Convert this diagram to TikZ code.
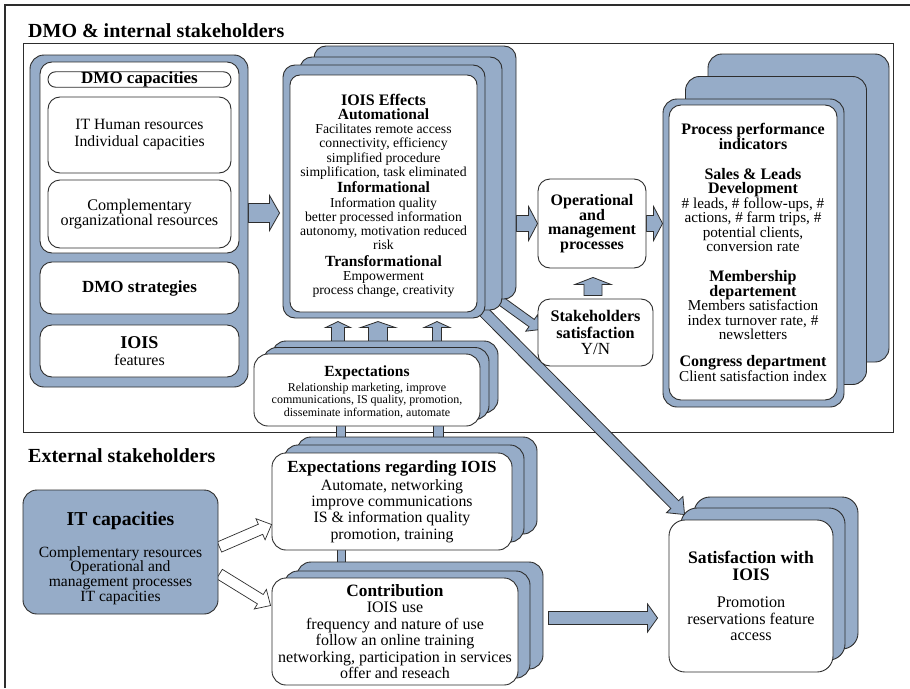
\documentclass[tikz,border=0pt]{standalone}
\usepackage{fontspec}
\setmainfont{Liberation Serif}
\usetikzlibrary{calc}
\definecolor{bl}{RGB}{150,172,200}
\definecolor{lc}{RGB}{45,45,45}
\pgfdeclarelayer{base}
\pgfdeclarelayer{bg}
\pgfsetlayers{base,bg,main}
\newcommand\fs[2]{\fontsize{#1}{#2}\selectfont\lineskiplimit=-30pt\relax}
\newcommand\bx[2]{{\bfseries\fontsize{#1}{#1}\selectfont #2}}
\newcommand\barr[6][barrow]{%
  \path[#1] let \p1=(#2), \p2=(#3), \p3=($(\p2)!#6pt!(\p1)$) in
   ($(\p1)!#4pt!90:(\p2)$) -- ($(\p3)!#4pt!-90:(\p1)$) -- ($(\p3)!#5pt!-90:(\p1)$) -- (\p2)
   -- ($(\p3)!#5pt!90:(\p1)$) -- ($(\p3)!#4pt!90:(\p1)$) -- ($(\p1)!#4pt!-90:(\p2)$) -- cycle;}
\begin{document}
\begin{tikzpicture}[x=1pt,y=-1pt,
  sz/.style 2 args={minimum width=#1pt, minimum height=#2pt},
  blu/.style={draw=lc, fill=bl, line width=0.9pt, rounded corners=12pt, inner sep=0pt},
  wht/.style={draw=lc, fill=white, line width=0.9pt, rounded corners=12pt, inner sep=0pt, align=center, text=black},
  barrow/.style={draw=lc, fill=bl, line width=0.8pt, line join=miter},
  warrow/.style={draw=lc, fill=white, line width=0.7pt, line join=miter},
  ttl/.style={anchor=base west, inner sep=0pt, font=\bfseries\fs{20}{21}}]
\useasboundingbox (0,0) rectangle (910,688);
\begin{pgfonlayer}{base}
\fill[white] (0,0) rectangle (910,688);
\draw[lc, line width=1.3pt] (5,688) -- (5,5) -- (910,5);
\draw[lc, line width=0.9pt] (23,43) rectangle (893,432);
\end{pgfonlayer}
\node[ttl] (t1) at (28,37) {DMO \& internal stakeholders};
\node[ttl] (t2) at (28,462) {External stakeholders};

% left group
\node[blu, rounded corners=14pt, sz={218}{332}] (grp) at (139,221) {};
\node[wht, sz={199}{191}] (cap) at (139.5,157.5) {};
\node[wht, rounded corners=7.5pt, sz={183}{15}, font=\bfseries\fs{17}{17}] (capt) at (139.5,79.5) {DMO capacities};
\node[wht, sz={183}{76}, font=\fs{15.7}{17}] (hr) at (139.5,135) {IT Human resources\\Individual capacities};
\node[wht, sz={183}{68}, font=\fs{16.2}{15.5}] (comp) at (139.5,214) {Complementary\\organizational resources};
\node[wht, sz={199}{52}, font=\bfseries\fs{17}{17}] (strat) at (139.5,288) {DMO strategies};
\node[wht, sz={199}{52}, font=\fs{16}{17}] (feat) at (139.5,351) {\bx{18}{IOIS}\\features};

% IOIS effects
\node[blu, sz={202}{253}] (eff3) at (415,172.5) {};
\node[blu, sz={202}{253}] (eff2) at (401,183.5) {};
\node[blu, sz={202}{253}] (eff) at (384,191.5) {};
\node[wht, rounded corners=10pt, sz={187}{237}, font=\fs{13.7}{14.2}] (efft) at (383.5,193.5) {%
\bx{16}{\rule{0pt}{16pt}IOIS Effects}\\
\bx{15.5}{Automational}\\
Facilitates remote access\\
connectivity, efficiency\\
simplified procedure\\
simplification, task eliminated\\[2.5pt]
\bx{15.5}{Informational}\\
Information quality\\
better processed information\\
autonomy, motivation reduced\\
risk\\[2.5pt]
\bx{15.5}{Transformational}\\
Empowerment\\
process change, creativity};

% operational / stakeholders
\node[wht, sz={108}{89}, font=\bfseries\fs{16}{14.5}] (ops) at (592,223.5) {Operational\\and\\management\\processes};
\node[wht, sz={115}{67}, font=\bfseries\fs{16.2}{16.5}] (stake) at (595.5,332.5) {Stakeholders\\satisfaction\\{\mdseries\fontsize{17}{17}\selectfont Y/N}};

% PPI
\node[blu, rounded corners=14pt, sz={181}{308}] (ppi3) at (798.5,208) {};
\node[blu, rounded corners=14pt, sz={181}{308}] (ppi2) at (776,230.5) {};
\node[blu, rounded corners=14pt, sz={181}{308}] (ppi) at (753.5,253) {};
\node[wht, sz={168}{295}, font=\fs{15.2}{14.5}] (ppit) at (753,252.5) {%
\bx{16}{Process performance}\\
\bx{16}{indicators}\\[15.5pt]
\bx{16}{Sales \& Leads}\\
\bx{16}{Development}\\
\# leads, \# follow-ups, \#\\
actions, \# farm trips, \#\\
potential clients,\\
conversion rate\\[15.5pt]
\bx{16}{Membership}\\
\bx{16}{departement}\\
Members satisfaction\\
index turnover rate, \#\\
newsletters\\[12.5pt]
\bx{16}{Congress department}\\
Client satisfaction index};

% Expectations
\node[blu, rounded corners=14pt, sz={226}{72}] (exp3) at (385,377) {};
\node[blu, rounded corners=14pt, sz={226}{72}] (exp2) at (376,383.5) {};
\node[wht, rounded corners=14pt, sz={226}{72}, font=\fs{12}{12.5}] (exp) at (367,390) {%
\bx{15.5}{\rule{0pt}{14pt}Expectations}\\[2.5pt]
Relationship marketing, improve\\
communications, IS quality, promotion,\\
disseminate information, automate};

% Expectations regarding IOIS
\node[blu, rounded corners=14pt, sz={240}{97}] (eri3) at (417,485.5) {};
\node[blu, rounded corners=14pt, sz={240}{97}] (eri2) at (404,493.5) {};
\node[wht, rounded corners=14pt, sz={240}{97}, font=\fs{15.8}{16.2}] (eri) at (392,501.5) {%
\bx{17}{Expectations regarding IOIS}\\[2pt]
Automate, networking\\
improve communications\\
IS \& information quality\\
promotion, training};

% Contribution
\node[blu, rounded corners=14pt, sz={246}{107}] (con3) at (420,615.5) {};
\node[blu, rounded corners=14pt, sz={246}{107}] (con2) at (407,624.5) {};
\node[wht, rounded corners=14pt, sz={246}{107}, font=\fs{16}{16.4}] (con) at (395,631.5) {%
\bx{17.3}{Contribution}\\
IOIS use\\
frequency and nature of use\\
follow an online training\\
networking, participation in services\\
offer and reseach};

% Satisfaction
\node[blu, rounded corners=16pt, sz={164}{152}] (sat3) at (776,573) {};
\node[blu, rounded corners=16pt, sz={164}{152}] (sat2) at (763,584) {};
\node[wht, rounded corners=16pt, sz={164}{152}, font=\fs{16.2}{16.5}] (sat) at (751,596) {%
\bx{17.6}{Satisfaction with}\\
\bx{17.6}{IOIS}\\[11pt]
Promotion\\
reservations feature\\
access};

% IT capacities
\node[blu, rounded corners=14pt, sz={195}{124}, align=center, font=\fs{15.6}{14.6}] (itc) at (120.5,552) {%
\bx{19.7}{\rule{0pt}{26pt}IT capacities}\\[17pt]
Complementary resources\\
Operational and\\
management processes\\
IT capacities};

% arrows
\begin{pgfonlayer}{bg}
\barr{$(grp.east)+(0,-8)$}{$(eff.west |- grp.east)+(-3,-8)$}{9.5}{17.5}{10}
\barr{eff3.east |- ops.west}{ops.west}{8}{17}{9}
\barr{ops.east}{ppi.west |- ops.east}{8}{17}{9}
\barr{$(stake.north)+(-2.5,-3)$}{$(ops.south)+(1,9)$}{9}{18}{7}
\barr{$(eff.south east)+(12,-20)$}{$(stake.west)+(3,-3)$}{4.5}{10}{11}
\barr{$(eff.south east)+(-5,-10)$}{$(sat.north west)+(16,-5)$}{5.5}{11.5}{14}
\barr{$(exp.north)+(-29,-9)$}{$(exp.north)+(-29,-32)$}{6.5}{12.5}{6}
\barr{$(exp.north)+(11,-9)$}{$(exp.north)+(11,-32)$}{9.5}{17.5}{6}
\barr{$(exp.north)+(70,-9)$}{$(exp.north)+(70,-32)$}{4.5}{13}{6}
\draw[barrow] ($(exp.south)+(-31,-2)$) rectangle ($(exp.south)+(-22,14)$);
\draw[barrow] ($(exp.south)+(66,-2)$) rectangle ($(exp.south)+(76,14)$);
\draw[barrow] ($(eri.south)+(-55,-2)$) rectangle ($(eri.south)+(-47,16)$);
\barr{$(con.east)+(30,-13.5)$}{$(sat.west)+(-11,22)$}{6.5}{14}{10}
\barr[warrow]{$(itc.east)+(1,-5)$}{$(eri.west)+(0,23)$}{5.5}{11.5}{12}
\barr[warrow]{$(itc.east)+(1,22)$}{$(con.west)+(-1,-26)$}{5.5}{11.5}{12}
\end{pgfonlayer}
\end{tikzpicture}
\end{document}
